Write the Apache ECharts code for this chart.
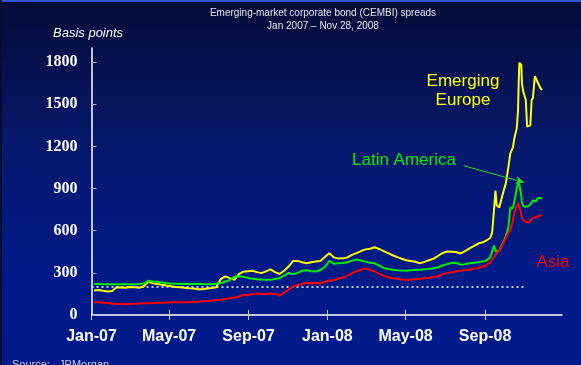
<!DOCTYPE html>
<html>
<head>
<meta charset="utf-8">
<script src="https://cdn.jsdelivr.net/npm/echarts@6/dist/echarts.min.js"></script>
<style>
  html, body { margin: 0; padding: 0; background: #001a8c; }
  #chart { width: 581px; height: 365px; }
</style>
</head>
<body>
<div id="chart"></div>
<script>
// Weekly Friday observations from 5 Jan 2007 to 29 Aug 2008 (87 points),
// then denser sampling through the autumn 2008 sell-off.
const weeklyStart = '2007-01-05';
const weeklyCount = 87;
const lateDates = [
  '2008-09-02', '2008-09-05', '2008-09-09', '2008-09-12', '2008-09-15',
  '2008-09-17', '2008-09-19', '2008-09-23', '2008-09-26', '2008-09-30',
  '2008-10-03', '2008-10-07', '2008-10-10', '2008-10-14', '2008-10-16',
  '2008-10-20', '2008-10-22', '2008-10-23', '2008-10-24', '2008-10-27',
  '2008-10-28', '2008-10-30', '2008-11-03', '2008-11-05', '2008-11-07',
  '2008-11-10', '2008-11-12', '2008-11-14', '2008-11-17', '2008-11-19',
  '2008-11-21', '2008-11-25', '2008-11-28'
];

// CEMBI spreads, basis points
const emergingEurope = [
  175, 178, 172, 168, 170, 198, 196, 194, 200, 197,
  194, 205, 236, 226, 220, 216, 210, 205, 200, 197,
  194, 190, 188, 184, 184, 188, 192, 198, 255, 275,
  262, 250, 290, 308, 312, 315, 305, 298, 310, 325,
  305, 292, 315, 345, 385, 385, 375, 368, 375, 380,
  385, 412, 440, 410, 402, 403, 410, 428, 440, 455,
  467, 472, 482, 470, 455, 440, 425, 412, 400, 390,
  385, 379, 368, 378, 390, 400, 420, 440, 452, 450,
  448, 438, 455, 474, 492, 510, 518,
  528, 535, 548, 590, 760, 885, 780, 765, 820, 890,
  935, 1050, 1150, 1190, 1250, 1330, 1460, 1650, 1795, 1780,
  1650, 1590, 1530, 1340, 1335, 1350, 1530, 1545, 1700, 1680,
  1660, 1620, 1600
];
const latinAmerica = [
  221, 220, 219, 218, 218, 218, 219, 218, 218, 219,
  220, 224, 244, 238, 236, 232, 228, 225, 223, 221,
  222, 220, 221, 222, 220, 219, 218, 222, 226, 238,
  249, 272, 276, 272, 264, 258, 255, 252, 250, 250,
  256, 262, 280, 300, 290, 300, 315, 318, 312, 310,
  320, 340, 385, 365, 368, 370, 375, 385, 395, 388,
  380, 372, 368, 352, 335, 328, 322, 318, 316, 315,
  318, 320, 322, 325, 328, 332, 340, 352, 362, 370,
  372, 358, 362, 368, 372, 375, 382,
  385, 390, 410, 420, 495, 455, 445, 458, 490, 525,
  560, 620, 765, 760, 800, 900, 945, 955, 930, 850,
  800, 775, 770, 768, 775, 785, 800, 815, 812, 808,
  830, 832, 830
];
const asia = [
  90, 90, 88, 86, 82, 78, 78, 79, 78, 80,
  82, 83, 84, 85, 87, 88, 89, 90, 90, 90,
  91, 90, 92, 94, 97, 100, 104, 106, 108, 114,
  119, 124, 130, 142, 143, 148, 153, 150, 150, 153,
  150, 138, 160, 180, 205, 212, 222, 228, 226, 230,
  224, 236, 245, 248, 258, 266, 280, 298, 310, 322,
  332, 320, 310, 295, 278, 268, 262, 258, 252, 249,
  252, 254, 256, 261, 265, 270, 275, 290, 298, 305,
  310, 315, 320, 322, 330, 335, 345,
  352, 362, 378, 395, 415, 428, 440, 460, 480, 520,
  545, 585, 600, 670, 720, 775, 795, 790, 770, 720,
  690, 675, 662, 655, 656, 672, 680, 690, 690, 695,
  698, 710, 705
];

// Dotted reference level
const referenceLevel = 200;
const referenceSpan = ['2007-01-01', '2008-10-31'];

// Axis ticks
const xTickDates = ['2007-01-01', '2007-05-01', '2007-09-01', '2008-01-01', '2008-05-01', '2008-09-01'];
const xTickLabels = ['Jan-07', 'May-07', 'Sep-07', 'Jan-08', 'May-08', 'Sep-08'];
const yTicks = [0, 300, 600, 900, 1200, 1500, 1800];

// Pointer from the "Latin America" label to the October peak
const pointerFrom = ['2008-07-30', 1062];
const pointerTo = ['2008-10-31', 944];

const utc = s => Date.parse(s + 'T00:00:00Z');
const DAY = 86400000;
const dates = [];
for (let i = 0; i < weeklyCount; i++) dates.push(utc(weeklyStart) + i * 7 * DAY);
lateDates.forEach(s => dates.push(utc(s)));
const pair = vals => vals.map((v, i) => [dates[i], v]);
const xTickValues = xTickDates.map(utc);

const YELLOW = '#ffff00';
const GREEN = '#00ec00';
const RED = '#ff0000';

const chart = echarts.init(document.getElementById('chart'));

const lineSeries = (name, vals, color) => ({
  name, type: 'line', data: pair(vals), showSymbol: false, symbol: 'none',
  lineStyle: { color, width: 2 }, itemStyle: { color }, animation: false, z: 3
});

chart.setOption({
  animation: false,
  backgroundColor: {
    type: 'linear', x: 0, y: 0, x2: 0, y2: 1,
    colorStops: [
      { offset: 0, color: '#050b36' },
      { offset: 0.4, color: '#06186c' },
      { offset: 0.75, color: '#001a88' },
      { offset: 1, color: '#001a8c' }
    ]
  },
  grid: { left: 91.5, right: 19, top: 48, bottom: 50 },
  xAxis: [{
    type: 'value',
    min: utc('2007-01-01'), max: utc('2008-12-29'),
    axisLine: { show: true, lineStyle: { color: '#ffffff', width: 1.5 } },
    axisTick: { show: true, inside: true, length: 5, customValues: xTickValues,
                lineStyle: { color: '#c8cde6', width: 1 } },
    axisLabel: {
      customValues: xTickValues,
      formatter: v => xTickLabels[xTickValues.indexOf(v)] || '',
      color: '#ffffff', fontFamily: 'Liberation Sans, Arial, sans-serif',
      fontWeight: 'bold', fontSize: 16, margin: 14
    },
    splitLine: { show: false }
  }, {
    type: 'value', position: 'bottom', offset: 0,
    min: utc('2007-01-01'), max: utc('2008-12-29'),
    axisLine: { show: false },
    axisTick: { show: true, inside: false, length: 5, customValues: xTickValues,
                lineStyle: { color: '#c8cde6', width: 1 } },
    axisLabel: { show: false },
    splitLine: { show: false }
  }],
  yAxis: {
    type: 'value', min: 0, max: 1900,
    axisLine: { show: true, lineStyle: { color: '#ffffff', width: 1.5 } },
    axisTick: { show: true, inside: true, length: 5, customValues: yTicks,
                lineStyle: { color: '#a8b0d4', width: 1 } },
    axisLabel: {
      customValues: yTicks,
      formatter: v => String(v),
      color: '#ffffff', fontFamily: 'Liberation Serif, Times New Roman, serif',
      fontWeight: 'bold', fontSize: 16, margin: 14
    },
    splitLine: { show: false }
  },
  series: [
    {
      name: 'reference', type: 'line', symbol: 'none', showSymbol: false,
      data: referenceSpan.map(d => [utc(d), referenceLevel]),
      lineStyle: { color: '#ffffff', width: 1.5, type: [2, 3] }, z: 2
    },
    lineSeries('Emerging Europe', emergingEurope, YELLOW),
    Object.assign(lineSeries('Latin America', latinAmerica, GREEN), {
      markLine: {
        silent: true, symbol: ['none', 'arrow'], symbolSize: [6, 8],
        label: { show: false },
        lineStyle: { color: '#22dd22', width: 1, type: 'solid' },
        data: [[{ coord: [utc(pointerFrom[0]), pointerFrom[1]] },
                { coord: [utc(pointerTo[0]), pointerTo[1]] }]]
      }
    }),
    lineSeries('Asia', asia, RED)
  ],
  graphic: [
    { type: 'rect', shape: { x: 0, y: 0, width: 581, height: 2 }, style: { fill: '#2f52d8' }, silent: true },
    { type: 'rect', shape: { x: 0, y: 0, width: 2, height: 365 }, style: { fill: '#060c30' }, silent: true },
    { type: 'text', x: 323, y: 13, style: { text: 'Emerging-market corporate bond (CEMBI) spreads',
      fill: '#e4e6f0', font: '10px "Liberation Sans", Arial, sans-serif', align: 'center', verticalAlign: 'middle' } },
    { type: 'text', x: 323, y: 26, style: { text: 'Jan 2007 \u2013 Nov 28, 2008',
      fill: '#e4e6f0', font: '10px "Liberation Sans", Arial, sans-serif', align: 'center', verticalAlign: 'middle' } },
    { type: 'text', x: 53, y: 33, style: { text: 'Basis points',
      fill: '#ffffff', font: 'italic 13px "Liberation Sans", Arial, sans-serif', align: 'left', verticalAlign: 'middle' } },
    { type: 'text', x: 463, y: 91, style: { text: 'Emerging\nEurope', lineHeight: 19,
      fill: YELLOW, font: '17px "Liberation Sans", Arial, sans-serif', align: 'center', verticalAlign: 'middle' } },
    { type: 'text', x: 404, y: 160, style: { text: 'Latin America',
      fill: GREEN, font: '17px "Liberation Sans", Arial, sans-serif', align: 'center', verticalAlign: 'middle' } },
    { type: 'text', x: 553, y: 262, style: { text: 'Asia',
      fill: RED, font: '17px "Liberation Sans", Arial, sans-serif', align: 'center', verticalAlign: 'middle' } },
    { type: 'text', x: 12, y: 359, style: { text: 'Source:   JPMorgan',
      fill: '#c8cce0', font: '11px "Liberation Sans", Arial, sans-serif', align: 'left', verticalAlign: 'top' } }
  ]
});
</script>
</body>
</html>
